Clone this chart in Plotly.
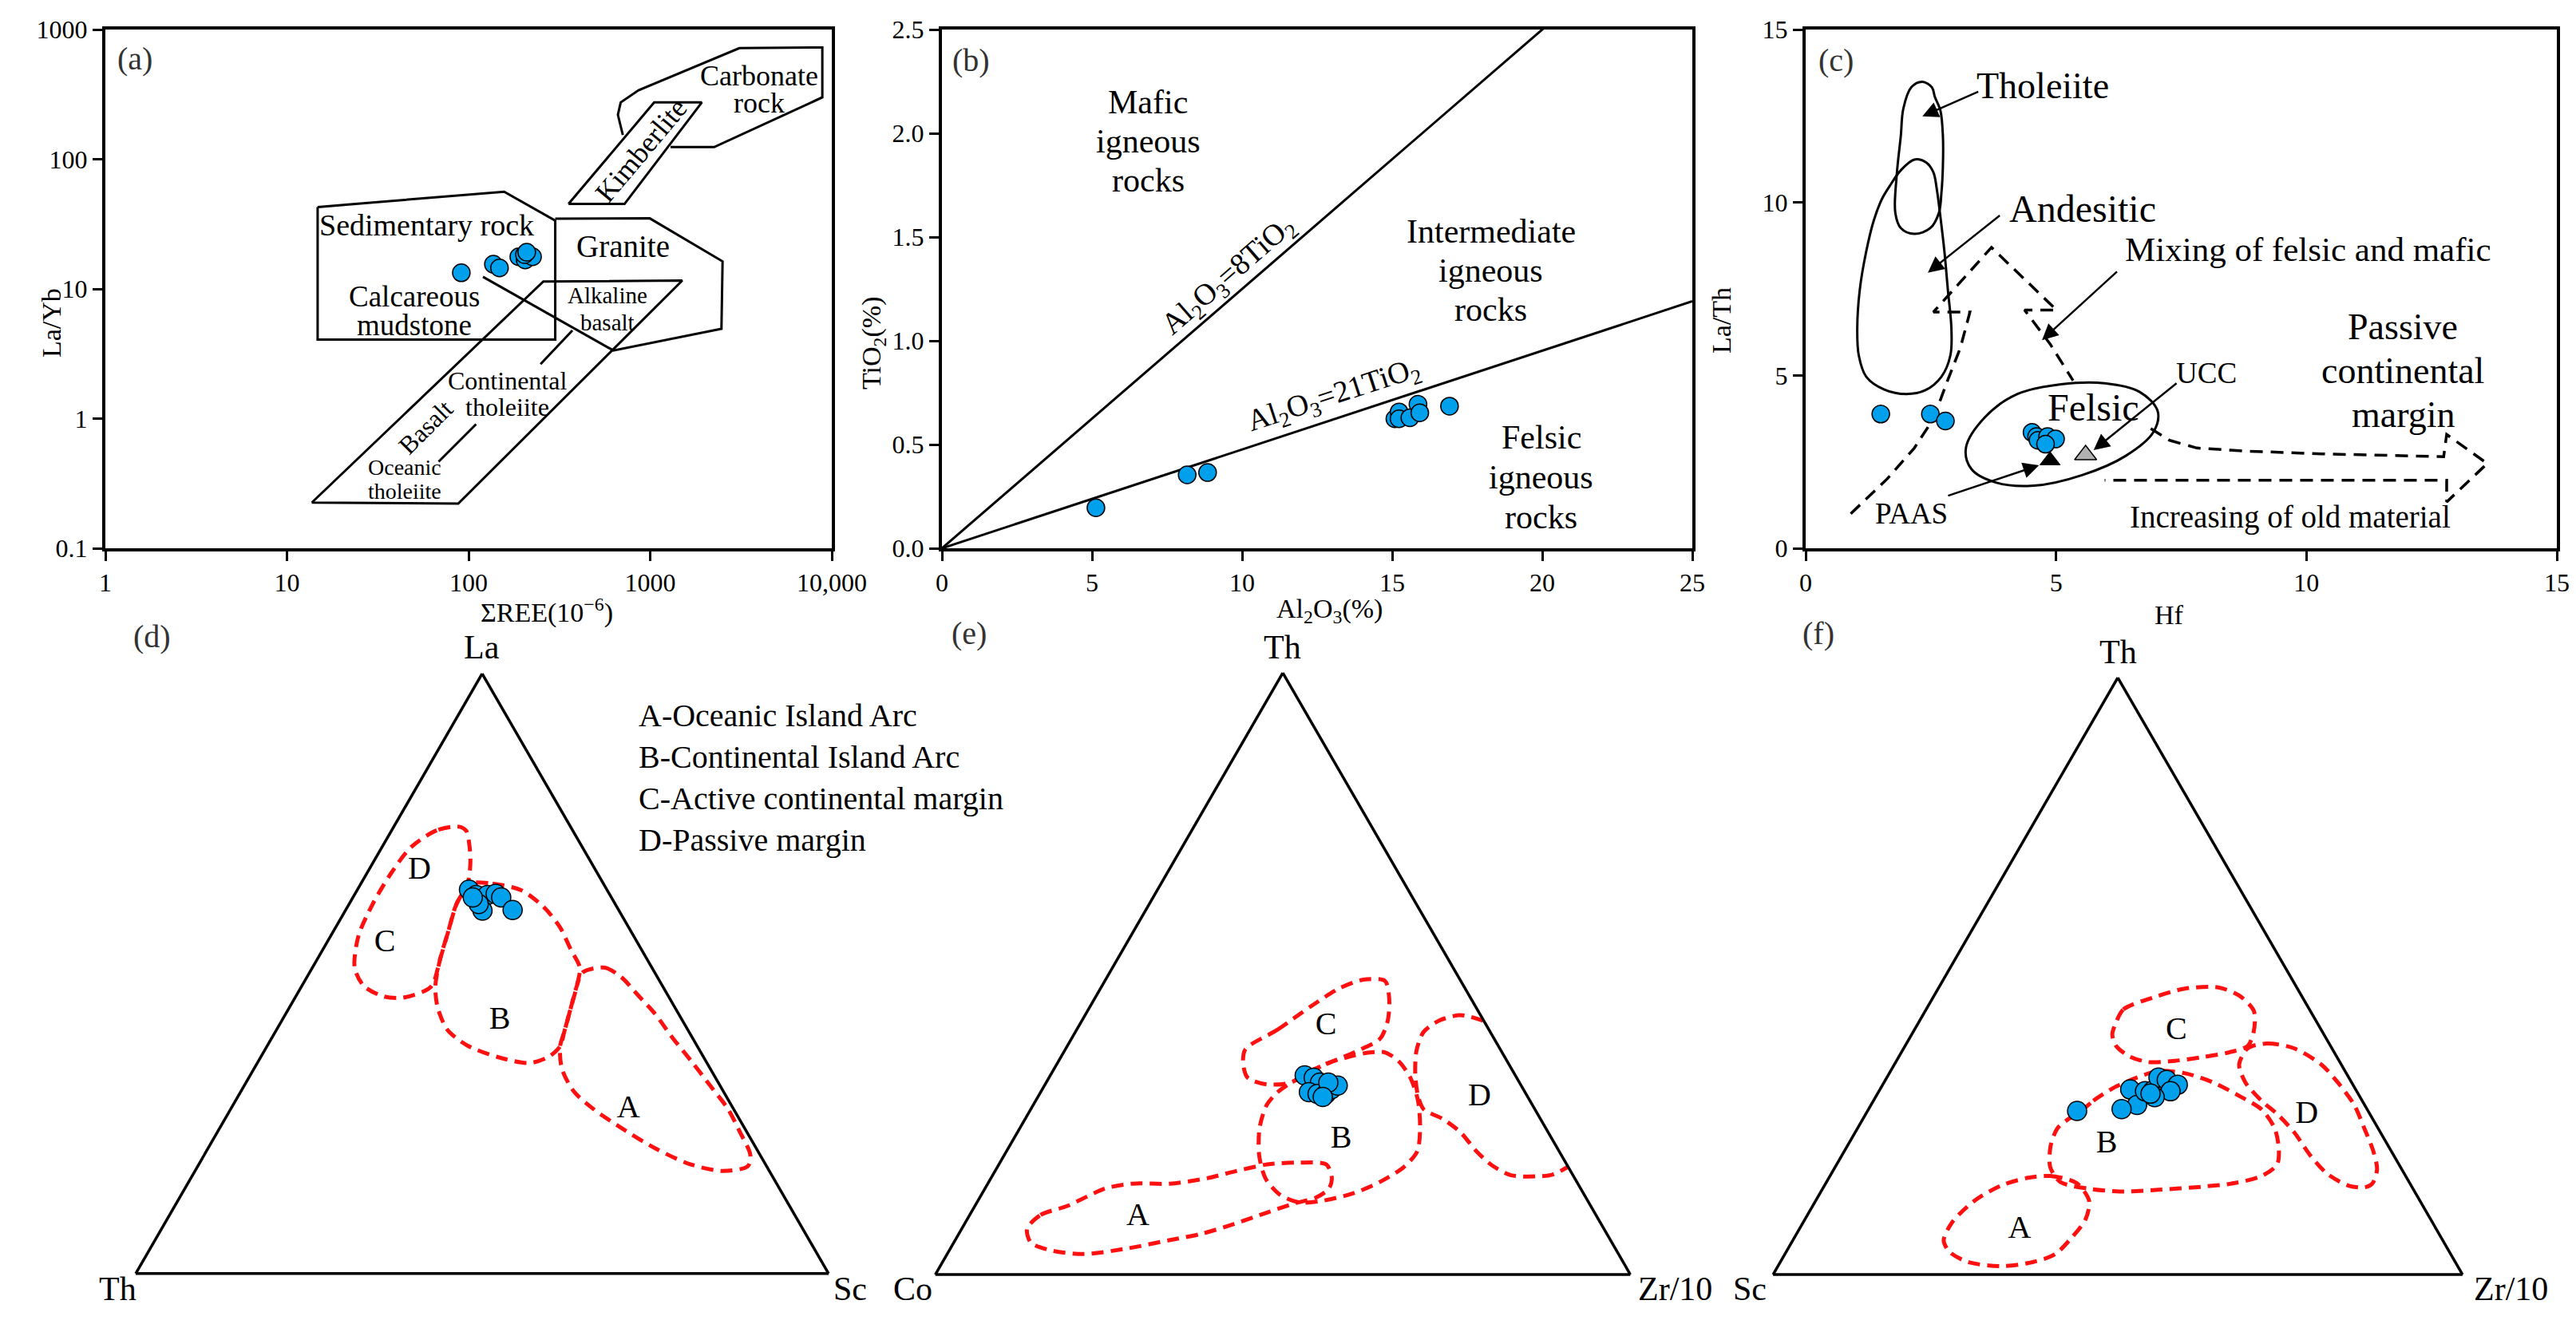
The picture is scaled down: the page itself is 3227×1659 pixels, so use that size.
import math
import plotly.graph_objects as go

W, H = 3227, 1659
OFF = 8  # page body margin offset of the HTML page
FONT = "Liberation Serif, Times New Roman, serif"
BLUE = "#00A0EC"
RED = "#FF1010"

# ---------------- Panel (a): La/Yb vs SREE ----------------
a_ree = [91.2, 137, 148, 189, 205, 225, 203, 209]
a_layb = [13.3, 15.5, 14.5, 17.7, 16.7, 17.7, 18.4, 19.2]
a_carb_x = [707, 664, 688, 863, 3098, 8870, 8870, 2250, 1294]
a_carb_y = [154, 220, 274, 340, 719, 728, 300, 124, 124]
a_kimb_x = [355, 1052, 1924, 722, 355]
a_kimb_y = [45.2, 274, 274, 45.2, 45.2]
a_sed_x = [14.75, 157, 300, 300, 14.75, 14.75]
a_sed_y = [42.8, 56.2, 33.6, 4.06, 4.06, 42.8]
a_gran_x = [300, 995, 2504, 2468, 627, 120]
a_gran_y = [34.8, 35.0, 16.3, 4.92, 3.35, 12.4]
a_bas_x = [13.7, 258, 1502, 87.7, 13.7]
a_bas_y = [0.225, 11.4, 11.6, 0.221, 0.225]
a_sep1_x = [373, 249]
a_sep1_y = [4.79, 2.63]
a_sep2_x = [110, 68.4]
a_sep2_y = [0.906, 0.465]
a_xticks = [1, 10, 100, 1000, 10000]
a_xticktext = ["1", "10", "100", "1000", "10,000"]
a_yticks = [0.1, 1, 10, 100, 1000]
a_yticktext = ["0.1", "1", "10", "100", "1000"]

# ---------------- Panel (b): TiO2 vs Al2O3 ----------------
b_al2o3 = [5.13, 8.17, 8.85, 15.09, 15.23, 15.23, 15.59, 15.86, 15.92, 16.91]
b_tio2 = [0.195, 0.354, 0.365, 0.624, 0.657, 0.624, 0.629, 0.694, 0.653, 0.685]
b_ratios = [8, 21]
b_line_x = [0, 25]

# ---------------- Panel (c): La/Th vs Hf ----------------
c_hf = [1.50, 2.49, 2.79, 4.52, 4.61, 4.64, 4.83, 4.99, 4.79]
c_lath = [3.88, 3.88, 3.68, 3.35, 3.23, 3.12, 3.23, 3.16, 3.01]
c_paas = [4.88, 2.54]
c_ucc = [5.59, 2.70]
c_thol_x = [2.33, 2.52, 2.58, 2.69, 2.74, 2.74, 2.71, 2.66, 2.49, 2.17, 1.90, 1.79, 1.82, 1.90, 1.95, 2.11, 2.33]
c_thol_y = [13.49, 13.33, 13.05, 12.66, 11.93, 11.04, 10.26, 9.70, 9.26, 9.09, 9.26, 9.70, 10.82, 11.93, 12.71, 13.33, 13.49]
c_and_x = [2.17, 2.41, 2.55, 2.62, 2.69, 2.77, 2.84, 2.91, 2.89, 2.71, 2.39, 2.01, 1.57, 1.21, 1.06, 1.03, 1.08, 1.21, 1.36, 1.52, 1.68, 1.90, 2.17]
c_and_y = [11.24, 11.15, 10.87, 10.37, 9.59, 8.59, 7.47, 6.36, 5.58, 4.96, 4.57, 4.46, 4.59, 4.96, 5.58, 6.36, 7.47, 8.59, 9.48, 10.09, 10.48, 10.93, 11.24]
c_fel_x = [3.20, 3.58, 4.23, 5.10, 5.97, 6.67, 7.03, 6.94, 6.40, 5.53, 4.56, 3.80, 3.31, 3.20]
c_fel_y = [2.90, 3.79, 4.46, 4.74, 4.77, 4.52, 3.96, 3.35, 2.68, 2.12, 1.81, 1.90, 2.29, 2.90]
c_mix_x = [0.90, 1.63, 2.17, 2.55, 2.82, 3.09, 3.28, 2.55, 3.71, 5.01, 4.37, 4.88, 5.34]
c_mix_y = [1.00, 2.01, 2.90, 3.74, 4.80, 5.80, 6.83, 6.83, 8.70, 6.89, 6.89, 5.91, 4.85]
c_old_x = [6.89, 7.27, 7.81, 8.79, 10.30, 12.74, 12.80, 13.61, 12.80, 12.80, 5.97]
c_old_y = [3.46, 3.12, 2.90, 2.81, 2.73, 2.65, 3.29, 2.45, 1.34, 1.97, 1.97]

# ---------------- Panel (d): La-Th-Sc ----------------
d_cd_la = [74.5, 73.9, 71.1, 66.9, 61.6, 56.3, 51.0, 47.9, 46.2, 46.0, 47.8, 52.5, 57.0, 61.6, 65.0, 68.4, 71.5, 73.8, 74.5]
d_cd_sc = [9.4, 6.5, 4.2, 3.5, 3.4, 4.0, 6.1, 9.0, 12.7, 15.6, 18.7, 17.7, 16.6, 15.5, 15.4, 14.1, 12.4, 10.8, 9.4]
d_b_la = [65.0, 65.0, 63.9, 61.2, 57.8, 54.0, 51.0, 47.9, 44.1, 40.3, 37.9, 36.1, 35.1, 36.1, 38.0, 40.7, 44.5, 47.9, 52.5, 57.0, 61.6, 65.0]
d_b_sc = [15.8, 19.0, 23.7, 28.2, 32.3, 35.8, 38.6, 39.7, 40.7, 41.7, 42.3, 41.5, 39.2, 34.2, 28.9, 24.6, 21.3, 19.3, 17.7, 16.6, 15.5, 15.8]
d_a_la = [50.2, 51.0, 49.4, 46.4, 43.3, 39.5, 35.4, 31.2, 27.4, 23.6, 19.8, 17.9, 17.1, 18.3, 20.9, 24.3, 27.4, 30.4, 34.2, 37.9, 40.3, 44.1, 47.9, 50.2]
d_a_sc = [39.4, 42.2, 45.4, 49.3, 53.3, 57.6, 62.5, 67.4, 71.8, 75.4, 78.8, 79.4, 76.1, 70.7, 64.5, 57.9, 52.4, 48.0, 44.4, 42.3, 41.7, 40.7, 39.7, 39.4]
d_pt_la = [64.0, 63.1, 62.4, 63.1, 63.3, 62.7, 60.5, 60.6, 61.6, 62.7]
d_pt_sc = [16.1, 17.6, 18.7, 19.2, 20.3, 21.4, 19.8, 24.1, 18.7, 17.3]
d_lab = ["D", "C", "B", "A"]
d_lab_la = [67.1, 55.1, 42.1, 27.4]
d_lab_sc = [7.4, 8.4, 31.5, 57.4]

# ---------------- Panel (e): Th-Co-Zr/10 ----------------
e_c_th = [37.4, 40.7, 44.5, 47.5, 49.0, 48.8, 46.0, 42.2, 39.2, 37.4, 35.7, 33.8, 31.9, 31.6, 32.7, 35.0, 37.4]
e_c_zr = [25.9, 28.9, 31.7, 34.3, 37.1, 40.3, 42.3, 44.0, 44.4, 42.5, 39.9, 37.0, 35.2, 31.9, 28.6, 26.8, 25.9]
e_b_th = [31.6, 35.0, 36.1, 36.9, 36.9, 35.4, 32.7, 28.9, 24.3, 20.5, 17.9, 15.4, 13.5, 12.2, 12.0, 13.3, 16.0, 19.8, 24.3, 28.1, 30.3, 31.6]
e_b_zr = [35.0, 38.7, 41.2, 44.0, 46.3, 49.0, 52.0, 55.0, 57.6, 59.1, 58.5, 56.3, 53.4, 49.3, 46.3, 42.9, 39.5, 36.7, 34.5, 33.6, 34.1, 35.0]
e_a_th = [7.6, 9.9, 11.4, 14.3, 15.1, 15.1, 16.0, 17.1, 18.3, 18.6, 18.3, 16.1, 14.3, 12.8, 11.8, 10.3, 8.4, 6.8, 5.7, 4.3, 3.4, 4.0, 5.3, 7.6]
e_a_zr = [9.4, 10.2, 13.3, 17.3, 20.8, 26.2, 31.1, 34.4, 38.6, 43.0, 47.1, 49.0, 49.5, 48.4, 45.7, 42.6, 38.8, 35.0, 30.8, 25.3, 19.6, 14.7, 11.1, 9.4]
e_d_th = [42.2, 43.1, 42.2, 40.3, 37.3, 33.5, 29.7, 27.4, 25.9, 23.6, 20.5, 18.1, 16.5, 16.3, 16.6, 17.9]
e_d_zr = [57.7, 54.0, 51.4, 50.1, 50.6, 52.3, 54.6, 56.6, 60.0, 63.8, 67.6, 71.1, 74.6, 78.2, 80.5, 82.1]
e_pt_th = [33.1, 32.7, 31.9, 30.3, 30.0, 30.0, 30.8, 31.4, 31.9, 29.5]
e_pt_zr = [36.6, 38.1, 39.4, 38.6, 40.0, 41.2, 41.6, 42.2, 40.6, 41.0]
e_lab = ["C", "B", "A", "D"]
e_lab_th = [41.2, 22.4, 9.5, 29.4]
e_lab_zr = [35.6, 47.2, 24.4, 63.6]

# ---------------- Panel (f): Th-Sc-Zr/10 ----------------
f_c_th = [41.8, 44.4, 46.4, 47.9, 48.1, 46.7, 44.1, 40.6, 38.3, 37.2, 36.4, 35.8, 35.6, 36.6, 38.3, 40.2, 41.8]
f_c_zr = [28.7, 28.6, 31.9, 35.8, 40.5, 44.3, 47.7, 49.4, 49.7, 47.5, 44.0, 40.4, 36.5, 33.3, 30.6, 29.1, 28.7]
f_b_th = [27.2, 29.1, 31.4, 33.0, 34.1, 33.7, 32.2, 29.9, 27.6, 24.5, 21.1, 18.4, 16.5, 15.3, 14.7, 14.2, 13.9, 14.4, 15.5, 18.0, 21.5, 24.5, 26.4, 27.2]
f_b_zr = [30.9, 31.9, 33.9, 36.3, 38.8, 42.9, 47.7, 52.7, 57.1, 60.5, 62.8, 63.9, 62.6, 59.2, 54.8, 48.8, 43.4, 38.5, 33.9, 31.2, 29.5, 29.0, 30.1, 30.9]
f_a_th = [16.2, 16.5, 15.3, 12.3, 9.2, 6.1, 3.4, 2.1, 1.4, 2.1, 3.8, 5.7, 8.8, 12.3, 14.9, 16.2]
f_a_zr = [28.9, 32.0, 36.4, 39.7, 40.7, 40.2, 39.2, 36.7, 32.4, 27.2, 23.7, 21.9, 21.6, 23.0, 25.6, 28.9]
f_d_th = [37.9, 38.7, 37.9, 35.2, 32.2, 28.4, 24.5, 20.7, 17.6, 15.3, 14.6, 14.9, 16.9, 19.9, 23.8, 26.8, 29.1, 32.2, 35.2, 37.9]
f_d_zr = [49.9, 52.3, 56.6, 61.9, 65.8, 70.1, 73.5, 76.7, 78.8, 79.3, 78.5, 76.0, 71.9, 68.0, 63.7, 59.8, 56.3, 52.4, 50.0, 49.9]
f_pt_th = [27.4, 31.0, 28.4, 27.7, 30.7, 30.8, 33.0, 32.6, 31.8, 30.7, 29.7, 30.3]
f_pt_zr = [30.4, 36.3, 38.6, 36.7, 38.6, 39.7, 39.4, 40.8, 42.8, 42.3, 40.5, 39.6]
f_lab = ["C", "B", "A", "D"]
f_lab_th = [40.8, 21.8, 7.5, 26.8]
f_lab_zr = [38.1, 37.5, 32.0, 64.0]

legend_lines = ["A-Oceanic Island Arc", "B-Continental Island Arc",
                "C-Active continental margin", "D-Passive margin"]


# ---------------- helpers (layout only) ----------------
def px(x):
    return (x - OFF) / W


def py(y):
    return 1 - (y - OFF) / H


def rest(a, c):
    return [round(100 - i - j, 3) for i, j in zip(a, c)]


fig = go.Figure()

marker = dict(size=22, color=BLUE, line=dict(color="black", width=1.5))
solid = dict(color="black", width=3)
dashk = dict(color="black", width=3.5, dash="16px,10px")


def sc(x, y, xa, ya, line=None, mode="lines", **kw):
    fig.add_trace(go.Scatter(x=x, y=y, xaxis=xa, yaxis=ya, mode=mode,
                             line=line, showlegend=False, hoverinfo="skip", **kw))


# (a)
for xs, ys in [(a_carb_x, a_carb_y), (a_kimb_x, a_kimb_y), (a_sed_x, a_sed_y),
               (a_gran_x, a_gran_y), (a_bas_x, a_bas_y), (a_sep1_x, a_sep1_y),
               (a_sep2_x, a_sep2_y)]:
    sc(xs, ys, "x", "y", line=solid)
sc(a_ree, a_layb, "x", "y", mode="markers", marker=marker)

# (b)
for r in b_ratios:
    sc(b_line_x, [v / r for v in b_line_x], "x2", "y2", line=solid)
sc(b_al2o3, b_tio2, "x2", "y2", mode="markers", marker=marker)

# (c)
for xs, ys in [(c_thol_x, c_thol_y), (c_and_x, c_and_y), (c_fel_x, c_fel_y)]:
    sc(xs, ys, "x3", "y3", line=dict(color="black", width=3, shape="spline", smoothing=1.0))
sc(c_mix_x, c_mix_y, "x3", "y3", line=dashk)
sc(c_old_x, c_old_y, "x3", "y3", line=dashk)
sc(c_hf, c_lath, "x3", "y3", mode="markers", marker=marker)
sc([c_paas[0]], [c_paas[1]], "x3", "y3", mode="markers",
   marker=dict(symbol="triangle-up", size=22, color="black", line=dict(color="black", width=1)))
sc([c_ucc[0]], [c_ucc[1]], "x3", "y3", mode="markers",
   marker=dict(symbol="triangle-up", size=24, color="#B0B0B0", line=dict(color="black", width=1.5)))

# ternaries
redline = dict(color=RED, width=5, dash="15px,9px", shape="spline", smoothing=0.8)


def tern_curve(sub, a, c):
    fig.add_trace(go.Scatterternary(a=a, b=rest(a, c), c=c, subplot=sub, mode="lines",
                                    line=redline, showlegend=False, hoverinfo="skip"))


def tern_pts(sub, a, c):
    fig.add_trace(go.Scatterternary(a=a, b=rest(a, c), c=c, subplot=sub, mode="markers",
                                    marker=dict(size=24, color=BLUE, line=dict(color="black", width=1.5)),
                                    showlegend=False, hoverinfo="skip"))


def tern_text(sub, a, c, t):
    fig.add_trace(go.Scatterternary(a=a, b=rest(a, c), c=c, subplot=sub, mode="text", text=t,
                                    textfont=dict(family=FONT, size=40, color="black"),
                                    showlegend=False, hoverinfo="skip"))


for a, c in [(d_cd_la, d_cd_sc), (d_b_la, d_b_sc), (d_a_la, d_a_sc)]:
    tern_curve("ternary", a, c)
tern_text("ternary", d_lab_la, d_lab_sc, d_lab)
tern_pts("ternary", d_pt_la, d_pt_sc)

for a, c in [(e_c_th, e_c_zr), (e_b_th, e_b_zr), (e_a_th, e_a_zr), (e_d_th, e_d_zr)]:
    tern_curve("ternary2", a, c)
tern_text("ternary2", e_lab_th, e_lab_zr, e_lab)
tern_pts("ternary2", e_pt_th, e_pt_zr)

for a, c in [(f_c_th, f_c_zr), (f_b_th, f_b_zr), (f_a_th, f_a_zr), (f_d_th, f_d_zr)]:
    tern_curve("ternary3", a, c)
tern_text("ternary3", f_lab_th, f_lab_zr, f_lab)
tern_pts("ternary3", f_pt_th, f_pt_zr)

# ---------------- layout ----------------
TOP_Y = [py(687), py(37)]
axis_common = dict(showline=True, linewidth=4, linecolor="black", mirror=True,
                   ticks="outside", ticklen=12, tickwidth=2.5, tickcolor="black",
                   showgrid=False, zeroline=False, automargin=False,
                   tickfont=dict(family=FONT, size=32, color="black"))

tax = dict(showticklabels=False, ticks="", showgrid=False, linecolor="black",
           linewidth=3.5, title=dict(text=""))


def tern(dx, dy):
    return dict(domain=dict(x=dx, y=dy), sum=100, bgcolor="rgba(0,0,0,0)",
                aaxis=tax, baxis=tax, caxis=tax)


fig.update_layout(
    template="none",
    width=W, height=H, autosize=False,
    margin=dict(l=0, r=0, t=0, b=0, pad=0, autoexpand=False),
    paper_bgcolor="white", plot_bgcolor="white",
    font=dict(family=FONT, color="black"),
    xaxis=dict(domain=[px(132), px(1042)], anchor="y", type="log", range=[0, 4],
               tickvals=a_xticks, ticktext=a_xticktext, **axis_common),
    yaxis=dict(domain=TOP_Y, anchor="x", type="log", range=[-1, 3],
               tickvals=a_yticks, ticktext=a_yticktext, **axis_common),
    xaxis2=dict(domain=[px(1180), px(2120)], anchor="y2", range=[0, 25], dtick=5, **axis_common),
    yaxis2=dict(domain=TOP_Y, anchor="x2", range=[0, 2.5], dtick=0.5, tickformat=".1f", **axis_common),
    xaxis3=dict(domain=[px(2262), px(3203)], anchor="y3", range=[0, 15], dtick=5, **axis_common),
    yaxis3=dict(domain=TOP_Y, anchor="x3", range=[0, 15], dtick=5, **axis_common),
    ternary=tern([px(170), px(1038)], [py(1597), py(843)]),
    ternary2=tern([px(1171), px(2043)], [py(1597), py(843)]),
    ternary3=tern([px(2221), px(3085)], [py(1597), py(849)]),
)

ann = []


def label(xr, yr, x, y, lines, size, spacing=0, angle=0, color="black", dx=0, dy=0):
    n = len(lines)
    for i, t in enumerate(lines):
        ann.append(dict(xref=xr, yref=yr, x=x, y=y, text=t, showarrow=False,
                        textangle=angle, xshift=dx, yshift=((n - 1) / 2 - i) * spacing + dy,
                        font=dict(family=FONT, size=size, color=color)))


lg = math.log10
# (a) texts
label("x", "y", lg(1.45), lg(597), ["(a)"], 40, color="#333333")
label("x", "y", lg(3974), lg(344), ["Carbonate", "rock"], 36, 34)
label("x", "y", lg(894), lg(118), ["Kimberlite"], 36, angle=-50)
label("x", "y", lg(58.9), lg(30.9), ["Sedimentary rock"], 38)
label("x", "y", lg(707), lg(21.2), ["Granite"], 39)
label("x", "y", lg(50.4), lg(6.8), ["Calcareous", "mudstone"], 37, 36)
label("x", "y", lg(584), lg(7.05), ["Alkaline", "basalt"], 29, 34)
label("x", "y", lg(163), lg(1.55), ["Continental", "tholeiite"], 32, 33)
label("x", "y", lg(58), lg(0.863), ["Basalt"], 32, angle=-45)
label("x", "y", lg(44.4), lg(0.340), ["Oceanic", "tholeiite"], 28, 30)

# (b) texts
label("x2", "y2", 0.97, 2.35, ["(b)"], 40, color="#333333")
label("x2", "y2", 6.87, 1.96, ["Mafic", "igneous", "rocks"], 42, 49)
label("x2", "y2", 18.29, 1.337, ["Intermediate", "igneous", "rocks"], 42, 49)
label("x2", "y2", 19.96, 0.341, ["Felsic", "igneous", "rocks"], 42, 50)
label("x2", "y2", 9.75, 1.28, ["Al<sub>2</sub>O<sub>3</sub>=8TiO<sub>2</sub>"], 38, angle=-41, dx=-7, dy=8)
label("x2", "y2", 13.08, 0.722, ["Al<sub>2</sub>O<sub>3</sub>=21TiO<sub>2</sub>"], 38, angle=-18, dy=3)

# (c) texts
label("x3", "y3", 0.60, 14.11, ["(c)"], 40, color="#333333")
label("x3", "y3", 4.73, 13.38, ["Tholeiite"], 46)
label("x3", "y3", 5.53, 9.81, ["Andesitic"], 48)
label("x3", "y3", 10.03, 8.64, ["Mixing of felsic and mafic"], 43)
label("x3", "y3", 11.93, 5.13, ["Passive", "continental", "margin"], 46, 55)
label("x3", "y3", 5.75, 4.07, ["Felsic"], 48)
label("x3", "y3", 8.00, 5.07, ["UCC"], 37)
label("x3", "y3", 2.11, 1.00, ["PAAS"], 37)
label("x3", "y3", 9.67, 0.89, ["Increasing of old material"], 39)

# (c) arrows: (head x, head y, tail x, tail y)
c_arrows = [(2.33, 12.49, 3.47, 13.22), (2.44, 7.97, 3.90, 9.65),
            (4.72, 6.02, 6.24, 8.03), (5.75, 2.84, 7.43, 4.80), (4.66, 2.40, 2.82, 1.51)]
for hx, hy, tx, ty in c_arrows:
    ann.append(dict(xref="x3", yref="y3", axref="x3", ayref="y3", x=hx, y=hy, ax=tx, ay=ty,
                    text="", showarrow=True, arrowhead=2, arrowsize=1.6, arrowwidth=2.5,
                    arrowcolor="black", standoff=0))

# axis titles
label("paper", "paper", px(44), py(359), ["La/Yb"], 34, angle=-90)
label("paper", "paper", px(1094), py(370), ["TiO<sub>2</sub>(%)"], 34, angle=-90)
label("paper", "paper", px(2177), py(358), ["La/Th"], 34, angle=-90)
label("paper", "paper", px(600), py(766), ["ΣREE(10<sup>−6</sup>)"], 34)
label("paper", "paper", px(1665), py(765), ["Al<sub>2</sub>O<sub>3</sub>(%)"], 34)
label("paper", "paper", px(2738), py(771), ["Hf"], 34)


# ternary vertex labels and panel tags
def vlabel(x, y, t, xa, ya, size=42):
    ann.append(dict(xref="paper", yref="paper", x=x, y=y, text=t, showarrow=False,
                    xanchor=xa, yanchor=ya, font=dict(family=FONT, size=size, color="black")))


vlabel(px(603), py(836), "La", "center", "bottom")
vlabel(px(173), py(1590), "Th", "right", "top")
vlabel(px(1042), py(1590), "Sc", "left", "top")
vlabel(px(1606), py(836), "Th", "center", "bottom")
vlabel(px(1170), py(1590), "Co", "right", "top")
vlabel(px(2050), py(1590), "Zr/10", "left", "top")
vlabel(px(2653), py(842), "Th", "center", "bottom")
vlabel(px(2215), py(1590), "Sc", "right", "top")
vlabel(px(3097), py(1590), "Zr/10", "left", "top")

label("paper", "paper", px(165), py(797), ["(d)"], 40, color="#333333")
label("paper", "paper", px(1214), py(794), ["(e)"], 40, color="#333333")
label("paper", "paper", px(2300), py(794), ["(f)"], 40, color="#333333")

ann.append(dict(xref="paper", yref="paper", x=px(798), y=py(872), xanchor="left", yanchor="top",
                align="left", showarrow=False, text="<br>".join(legend_lines),
                font=dict(family=FONT, size=40, color="black")))

fig.update_layout(annotations=ann)
fig.write_html("out.html")
